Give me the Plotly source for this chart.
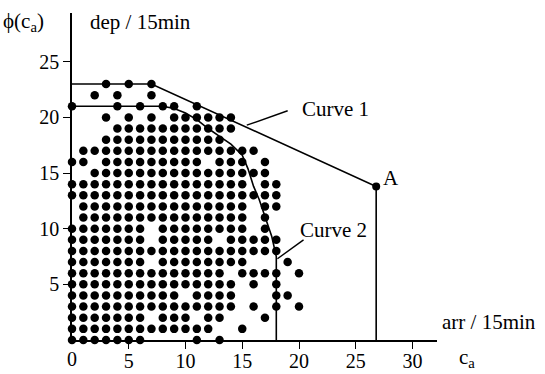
import plotly.graph_objects as go

# Feasible (arrivals, departures) combinations per 15 min: for each departure
# count y (index), the arrival counts x that were observed.
dep_rows = [
    [0, 1, 2, 3, 4, 5, 6, 11, 13],                                   # 0
    [0, 1, 2, 3, 4, 5, 6, 7, 8, 9, 10, 11, 12, 15],                   # 1
    [0, 1, 2, 3, 4, 5, 6, 8, 9, 10, 12, 13, 17],                      # 2
    [0, 1, 2, 3, 4, 5, 6, 7, 8, 9, 10, 11, 12, 13, 14, 16, 18, 20],   # 3
    [0, 1, 2, 3, 4, 5, 6, 7, 8, 9, 11, 12, 13, 14, 18, 19],           # 4
    [0, 1, 2, 3, 4, 5, 6, 7, 8, 9, 10, 11, 12, 13, 14, 16, 18],       # 5
    [0, 1, 2, 3, 4, 5, 6, 7, 8, 9, 10, 11, 12, 13, 15, 16, 17, 18, 20],  # 6
    [0, 1, 2, 3, 4, 5, 6, 8, 9, 10, 11, 12, 13, 14, 15, 19],          # 7
    [0, 1, 2, 3, 4, 5, 6, 7, 8, 9, 10, 11, 12, 13, 14, 15, 16, 17, 18],  # 8
    [0, 1, 2, 3, 4, 5, 6, 8, 9, 10, 11, 12, 14, 15, 16, 17, 18],      # 9
    [0, 1, 2, 3, 4, 5, 6, 8, 9, 10, 11, 12, 13, 14, 15, 17],          # 10
    [1, 2, 3, 4, 5, 6, 7, 8, 9, 10, 11, 12, 13, 14, 15, 17],          # 11
    [1, 2, 3, 4, 5, 6, 7, 8, 9, 10, 11, 12, 13, 14, 15, 17, 18],      # 12
    [0, 1, 2, 3, 4, 5, 6, 7, 8, 9, 10, 11, 12, 13, 14, 15, 16, 17, 18],  # 13
    [0, 1, 2, 3, 4, 5, 6, 7, 8, 9, 10, 11, 12, 13, 14, 15, 17, 18],   # 14
    [2, 3, 4, 5, 6, 7, 8, 9, 10, 11, 12, 13, 14, 15, 16, 17],         # 15
    [0, 1, 3, 4, 5, 6, 7, 8, 9, 10, 11, 13, 14, 15, 17],              # 16
    [1, 2, 3, 4, 5, 6, 7, 8, 9, 10, 11, 12, 13, 14, 15, 16],          # 17
    [3, 4, 5, 6, 7, 8, 9, 10, 11, 12, 13],                            # 18
    [4, 5, 6, 7, 8, 9, 10, 11, 12, 13, 14],                           # 19
    [3, 5, 7, 9, 10, 11, 12, 13, 14],                                 # 20
    [0, 4, 6, 8, 9, 11],                                              # 21
    [2, 4, 7],                                                        # 22
    [3, 5, 7],                                                        # 23
]

# Curve 1: capacity envelope ending at point A
curve1_x = [0, 7, 26.8, 26.8]
curve1_y = [23, 23, 13.8, 0]
point_a = (26.8, 13.8)

# Curve 2: tighter envelope around the observed points
curve2_x = [0, 8, 9, 10, 11, 12, 13, 14, 15, 15.5, 16, 16.5, 17, 17.6, 18, 18]
curve2_y = [21, 21, 20.8, 20.4, 19.8, 19.0, 18.3, 17.6, 16.6, 15.4, 13.8, 12.6, 11.1, 9.3, 7.5, 0]

x_ticks = [5, 10, 15, 20, 25, 30]
y_ticks = [5, 10, 15, 20, 25]

dot_x = [x for y, xs in enumerate(dep_rows) for x in xs]
dot_y = [y for y, xs in enumerate(dep_rows) for x in xs]

FONT = "Liberation Serif, Times New Roman, serif"
L, T, W, H = 72, 13, 365, 327
X_MAX = W / 11.35
Y_MAX = H / 11.13

fig = go.Figure()
fig.add_trace(go.Scatter(x=dot_x, y=dot_y, mode="markers", cliponaxis=False,
                         marker=dict(size=8.5, color="black"), showlegend=False))
for cx, cy in ((curve1_x, curve1_y), (curve2_x, curve2_y)):
    fig.add_trace(go.Scatter(x=cx, y=cy, mode="lines", cliponaxis=False,
                             line=dict(color="black", width=1.6), showlegend=False))
fig.add_trace(go.Scatter(x=[point_a[0]], y=[point_a[1]], mode="markers", cliponaxis=False,
                         marker=dict(size=8, color="black"), showlegend=False))

# leader lines from the curve labels
fig.add_trace(go.Scatter(x=[15.4, 19.0], y=[19.3, 20.6], mode="lines", cliponaxis=False,
                         line=dict(color="black", width=1.4), showlegend=False))
fig.add_trace(go.Scatter(x=[18.1, 20.4], y=[7.3, 9.0], mode="lines", cliponaxis=False,
                         line=dict(color="black", width=1.4), showlegend=False))

def label(text, x, y, xanchor="left", ref="data", size=21):
    kw = dict(xref="x", yref="y") if ref == "data" else dict(xref="paper", yref="paper")
    fig.add_annotation(text=text, x=x, y=y, showarrow=False, xanchor=xanchor,
                       yanchor="middle", font=dict(family=FONT, size=size, color="black"), **kw)

label("Curve 1", 20.1, 20.8)
label("Curve 2", 19.9, 9.9)
label("A", 27.2, 14.6)

def px_to_paper(px, py):
    return (px - L) / W, (T + H - py) / H

for text, px, py, anchor in [
    ("ϕ(c<sub>a</sub>)", 1, 22, "left"),
    ("dep / 15min", 88, 22, "left"),
    ("arr / 15min", 440, 322, "left"),
    ("c<sub>a</sub>", 457, 358, "left"),
    ("0", 72, 359, "center"),
]:
    px_, py_ = px_to_paper(px, py)
    label(text, px_, py_, xanchor=anchor, ref="paper", size=21 if text != "0" else 20)

axis_common = dict(showgrid=False, zeroline=False, showline=True, linecolor="black",
                   linewidth=1.6, ticks="outside", ticklen=7, tickwidth=1.4, automargin=False,
                   tickcolor="black", tickfont=dict(family=FONT, size=20, color="black"))
fig.update_xaxes(range=[0, X_MAX], tickvals=x_ticks, ticklabelstandoff=-5, **axis_common)
fig.update_yaxes(range=[0, Y_MAX], tickvals=y_ticks, **axis_common)

fig.update_layout(width=545, height=374, margin=dict(l=L, r=545 - L - W, t=T, b=374 - T - H),
                  plot_bgcolor="white", paper_bgcolor="white")

fig.write_html("out.html")
